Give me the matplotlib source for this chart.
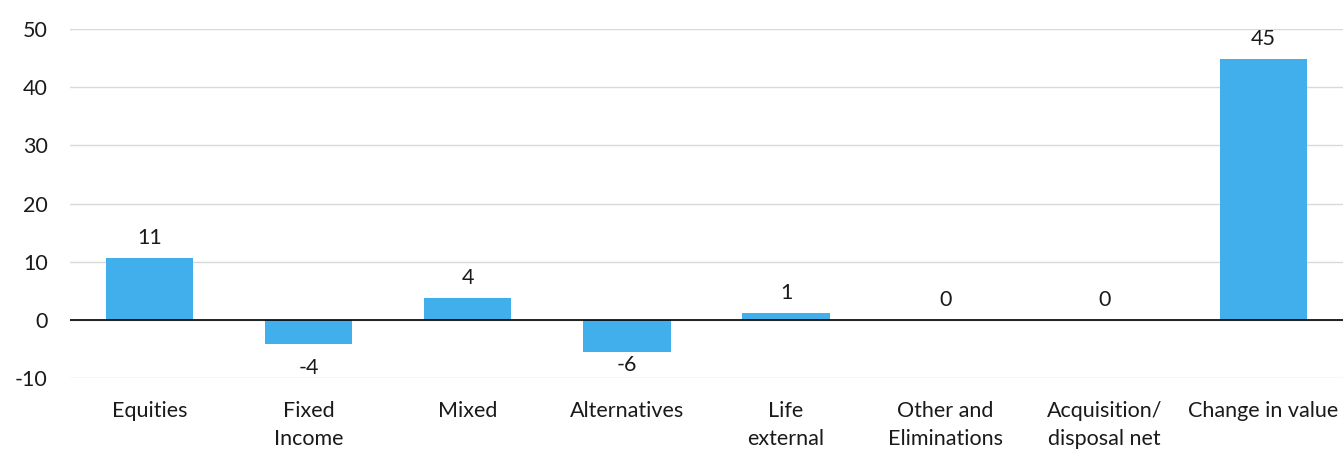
import matplotlib.pyplot as plt

categories = ["Equities", "Fixed\nIncome", "Mixed", "Alternatives", "Life\nexternal",
              "Other and\nEliminations", "Acquisition/\ndisposal net", "Change in value"]
values = [10.7, -4.1, 3.8, -5.5, 1.25, 0, 0, 44.8]
labels = ["11", "-4", "4", "-6", "1", "0", "0", "45"]
yticks = [-10, 0, 10, 20, 30, 40, 50]

plt.rcParams['font.family'] = ['Lato', 'DejaVu Sans']
plt.rcParams['axes.unicode_minus'] = False
txt = '#1a1a1a'
fs = 15.5

fig = plt.figure(figsize=(13.43, 4.51), dpi=100)
ax = fig.add_axes([0.052, 0.161, 0.948, 0.775])

x = range(len(categories))
ax.bar(x, values, width=0.55, color='#41afec', zorder=2)
ax.axhline(0, color='black', lw=1.2, zorder=3)

# value labels above positive bars, below negative ones
# (the deeper bar's label is tucked up so it stays clear of the -10 gridline)
for i, (v, lab) in enumerate(zip(values, labels)):
    if v < 0:
        off = -10 if v > -5 else -2
        ax.annotate(lab, (i, v), xytext=(0, off), textcoords='offset points',
                    ha='center', va='top', fontsize=fs, color=txt)
    else:
        ax.annotate(lab, (i, v), xytext=(0, 7), textcoords='offset points',
                    ha='center', va='bottom', fontsize=fs, color=txt)

ax.set_ylim(-10, 50)
ax.set_xlim(-0.5, 7.5)
ax.set_yticks(yticks)
ax.set_xticks(list(x))
ax.set_xticklabels(categories, fontsize=fs, color=txt, linespacing=1.55)
ax.tick_params(axis='y', labelsize=fs, colors=txt, length=0, pad=16)
ax.tick_params(axis='x', length=0, pad=16)
ax.yaxis.grid(True, color='#d9d9d9', lw=1, zorder=0)
for s in ax.spines.values():
    s.set_visible(False)

fig.savefig('out.png', dpi=100)
